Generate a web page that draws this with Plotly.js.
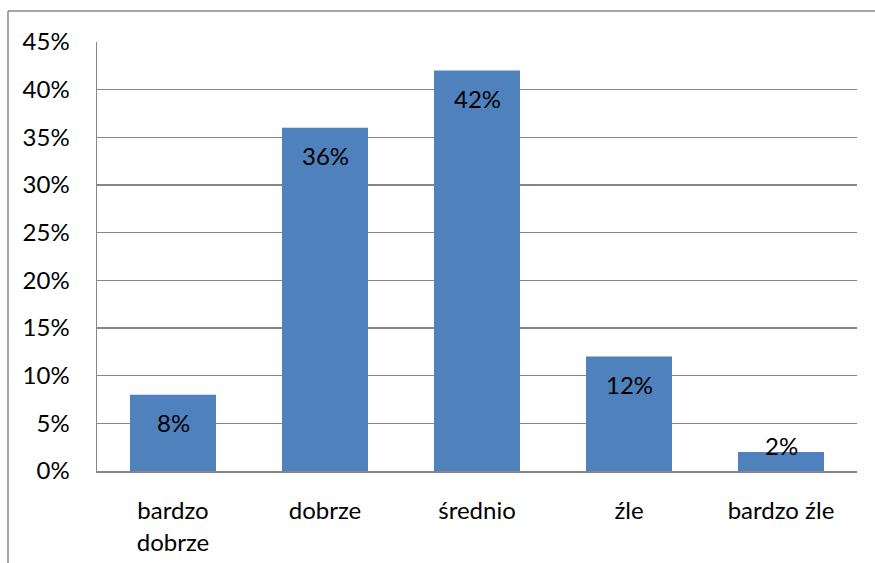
<!DOCTYPE html>
<html>
<head>
<meta charset="utf-8">
<script src="https://cdn.plot.ly/plotly-3.0.1.min.js"></script>
<style>html,body{margin:0;padding:0;background:#fff;}#chart{width:875px;height:563px;}</style>
</head>
<body>
<div id="chart"></div>
<script>
const categories = ["bardzo<br>dobrze", "dobrze", "średnio", "źle", "bardzo źle"];
const values = [8, 36, 42, 12, 2];
const labels = ["8%", "36%", "42%", "12%", "2%"];
const yTickVals = [0, 5, 10, 15, 20, 25, 30, 35, 40, 45];
const yTickText = ["0%", "5%", "10%", "15%", "20%", "25%", "30%", "35%", "40%", "45%"];

const FONT = "Lato, 'Open Sans', sans-serif";
const W = 875, H = 563;
const margin = {l: 97, r: 18, t: 42, b: 92};
const pw = W - margin.l - margin.r, ph = H - margin.t - margin.b;
const yMax = 45;
const pxPerUnit = ph / yMax;

const annotations = values.map((v, i) => ({
  x: categories[i], y: v, xref: 'x', yref: 'y',
  text: labels[i], showarrow: false,
  yanchor: 'middle', xanchor: 'center',
  yshift: (v * pxPerUnit > 40) ? -28 : 6,
  font: {family: FONT, size: 24, color: '#000'}
}));

// outer chart border (left and top edges visible)
const bx = (8 - margin.l) / pw, by = 1 + (margin.t - 11) / ph;
const shapes = [
  {type: 'line', xref: 'paper', yref: 'paper', x0: bx, x1: (W + 5 - margin.l) / pw, y0: by, y1: by, line: {color: '#898989', width: 1.5}},
  {type: 'line', xref: 'paper', yref: 'paper', x0: bx, x1: bx, y0: by, y1: -(margin.b + 5) / ph, line: {color: '#898989', width: 1.5}}
];

Plotly.newPlot('chart', [{
  type: 'bar', x: categories, y: values,
  marker: {color: '#4F81BD'},
  hoverinfo: 'none'
}], {
  width: W, height: H, margin: margin,
  paper_bgcolor: '#fff', plot_bgcolor: '#fff',
  bargap: 0.434,
  showlegend: false,
  font: {family: FONT, size: 24, color: '#000'},
  xaxis: {
    type: 'category', showgrid: false, zeroline: false,
    showline: true, linecolor: '#868686', linewidth: 1.5,
    ticks: '', ticklabelstandoff: 18,
    tickfont: {family: FONT, size: 24, color: '#000'}
  },
  yaxis: {
    range: [0, yMax], tickvals: yTickVals, ticktext: yTickText,
    showgrid: true, gridcolor: '#868686', gridwidth: 1.2,
    zeroline: false, showline: true, linecolor: '#868686', linewidth: 1.5,
    ticks: '', ticklabelstandoff: 21,
    tickfont: {family: FONT, size: 24, color: '#000'}
  },
  annotations: annotations,
  shapes: shapes
}, {staticPlot: true});
</script>
</body>
</html>
